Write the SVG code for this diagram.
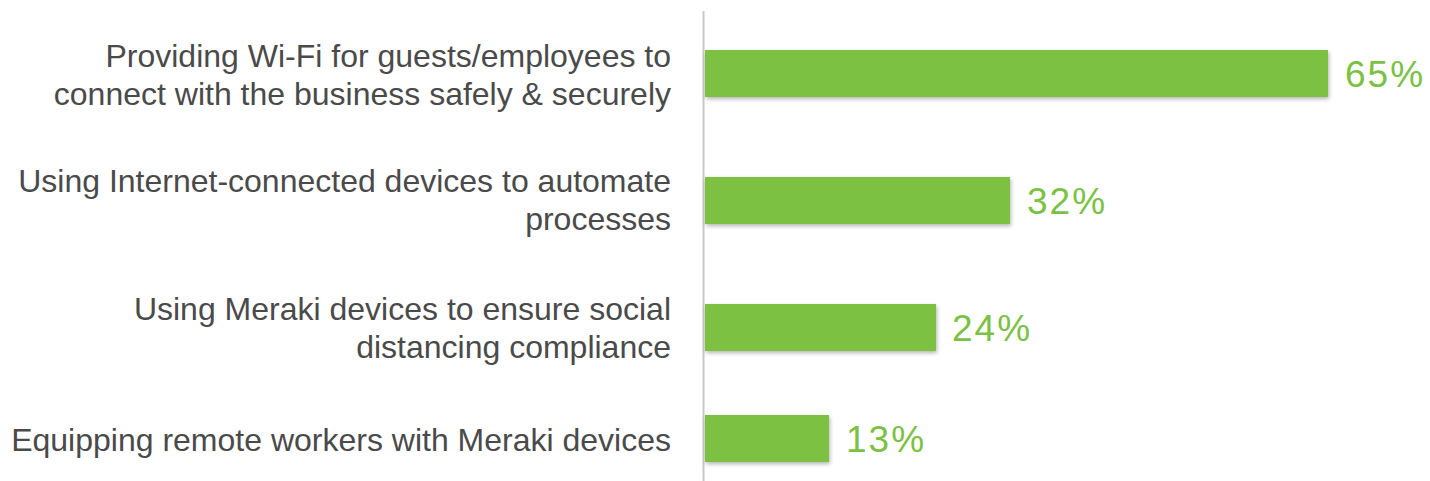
<svg xmlns="http://www.w3.org/2000/svg" width="1430" height="481" viewBox="0 0 1430 481">
<defs>
<filter id="sh" x="-5%" y="-20%" width="110%" height="150%">
<feGaussianBlur in="SourceAlpha" stdDeviation="2"/>
<feOffset dx="1" dy="2" result="b"/>
<feComponentTransfer><feFuncA type="linear" slope="0.3"/></feComponentTransfer>
<feMerge><feMergeNode/><feMergeNode in="SourceGraphic"/></feMerge>
</filter>
<style>
.lbl{font-family:"Liberation Sans",Arial,sans-serif;font-size:32px;fill:#4a4a4a;text-anchor:end}
.pct{font-family:"Liberation Sans",Arial,sans-serif;font-size:37px;letter-spacing:2px;fill:#7bc143}
.bar{fill:#7bc143;filter:url(#sh)}
</style>
</defs>
<rect width="1430" height="481" fill="#ffffff"/>
<g id="axis"><line x1="703.5" y1="11" x2="703.5" y2="481" stroke="#c8c8c8" stroke-width="2"/></g>
<g id="row1">
<text class="lbl" x="671" y="67">Providing Wi-Fi for guests/employees to</text>
<text class="lbl" x="671" y="105">connect with the business safely &amp; securely</text>
<rect class="bar" x="705" y="50" width="623" height="47"/>
<text class="pct" x="1345" y="87">65%</text>
</g>
<g id="row2">
<text class="lbl" x="671" y="192">Using Internet-connected devices to automate</text>
<text class="lbl" x="671" y="230">processes</text>
<rect class="bar" x="705" y="177" width="305" height="47"/>
<text class="pct" x="1027" y="214">32%</text>
</g>
<g id="row3">
<text class="lbl" x="671" y="320">Using Meraki devices to ensure social</text>
<text class="lbl" x="671" y="358">distancing compliance</text>
<rect class="bar" x="705" y="304" width="231" height="47"/>
<text class="pct" x="952" y="341">24%</text>
</g>
<g id="row4">
<text class="lbl" x="671" y="451">Equipping remote workers with Meraki devices</text>
<rect class="bar" x="705" y="415" width="124" height="47"/>
<text class="pct" x="846" y="452">13%</text>
</g>
</svg>
